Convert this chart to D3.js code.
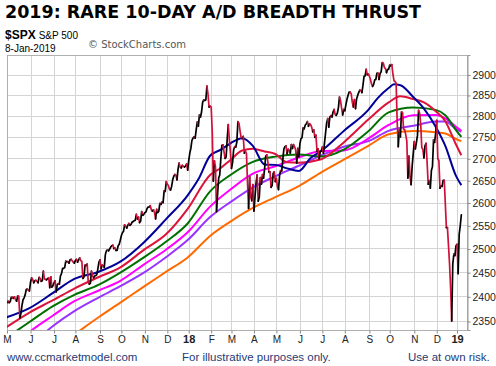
<!DOCTYPE html>
<html><head><meta charset="utf-8">
<script src="https://cdn.jsdelivr.net/npm/d3@7/dist/d3.min.js"></script>
<style>body{margin:0;background:#fff}svg{display:block}</style>
</head><body><svg id="c" width="496" height="366"></svg>
<script>
// Daily closes of $SPX, one per trading day starting 1-May-2017
const closes = [
2388,2391,2388,2390,2399,2399,2397,2400,2394,2391,2402,2401,2357,2366,2382,2394,2398,2404,2415,2416,2413,2412,
2430,2439,2436,2429,2433,2434,2432,2429,2440,2438,2432,2433,2453,2437,2436,2435,2438,2439,2419,2441,2420,2423,
2429,2433,2410,2425,2427,2426,2443,2448,2459,2459,2461,2474,2473,2473,2470,2477,2478,2475,2472,2470,
2476,2478,2472,2477,2481,2475,2474,2438,2441,2466,2465,2468,2430,2426,2428,2453,2444,2439,2443,2444,2446,2458,2472,
2477,2458,2466,2465,2461,2488,2496,2498,2496,2500,2504,2507,2508,2501,2502,2497,2497,2507,2510,2519,
2529,2535,2538,2552,2549,2545,2551,2555,2551,2553,2558,2559,2561,2562,2575,2565,2569,2557,2560,2581,2573,2575,
2579,2580,2588,2591,2591,2594,2585,2582,2585,2579,2565,2586,2579,2582,2599,2597,2602,2601,2627,2626,2648,
2642,2639,2630,2629,2637,2652,2660,2664,2663,2652,2676,2690,2681,2679,2685,2683,2681,2683,2688,2674,
2696,2713,2724,2743,2748,2751,2748,2768,2786,2776,2803,2798,2810,2833,2839,2838,2839,2873,2854,2822,2824,
2822,2762,2649,2695,2682,2581,2620,2656,2663,2699,2731,2732,2716,2701,2704,2747,2780,2744,2714,
2678,2691,2721,2728,2727,2739,2787,2783,2765,2749,2747,2752,2713,2717,2712,2644,2588,2659,2613,2605,2641,
2582,2614,2645,2663,2604,2613,2657,2642,2664,2656,2678,2706,2709,2693,2670,2670,2635,2639,2667,2670,2648,
2655,2636,2630,2663,2673,2672,2698,2723,2728,2730,2711,2722,2720,2713,2733,2724,2733,2728,2721,2690,2724,2705,
2735,2747,2749,2772,2770,2779,2782,2787,2776,2782,2780,2774,2763,2767,2750,2755,2717,2723,2700,2716,2718,
2727,2713,2737,2760,2784,2794,2774,2798,2801,2798,2810,2816,2804,2802,2807,2820,2846,2837,2819,2803,2816,
2813,2827,2840,2850,2858,2858,2854,2833,2822,2840,2818,2841,2850,2857,2863,2862,2857,2875,2897,2898,2914,2901,2902,
2897,2889,2878,2872,2877,2888,2889,2904,2905,2889,2904,2908,2931,2930,2919,2916,2906,2914,2914,
2925,2923,2926,2902,2886,2884,2880,2786,2728,2767,2751,2810,2809,2769,2768,2756,2741,2656,2706,2659,2641,2683,2712,
2740,2723,2738,2755,2814,2807,2781,2726,2722,2702,2730,2736,2691,2642,2650,2633,2673,2682,2744,2738,2760,
2790,2700,2696,2633,2638,2637,2651,2651,2600,2546,2546,2507,2467,2417,2351,2468,2489,2486,2507,
2510,2448,2532,2550,2574
];

// Month axis: labels and trading days in each month (May-2017 .. Dec-2018)
const monthLabels = ["M","J","J","A","S","O","N","D","18","F","M","A","M","J","J","A","S","O","N","D","19"];
const monthTradingDays = [22,22,20,23,20,22,21,20,21,19,21,21,22,21,21,23,19,23,21,19];
const yTicks = [2350,2400,2450,2500,2550,2600,2650,2700,2750,2800,2850,2900];

// Moving averages, sampled at trading-day index (month ends / mid months)
const sma50Days = [-1,21,43,63,86,106,128,149,169,179,190,200,209,220,230,241,251,262,273,284,294,315,338,347,357,362,368,380,390,401,410,420,425];
const sma50     = [2358,2377,2408,2437,2452,2473,2514,2565,2617,2653,2707,2721,2736,2748,2730,2687,2686,2678,2672,2702,2718,2765,2815,2844,2868,2877,2875,2846,2818,2775,2730,2661,2640];
const sma75Days = [-1,21,43,63,86,106,128,149,169,190,200,209,220,230,241,251,262,273,294,315,338,357,368,380,390,401,410,420,425];
const sma75     = [2338,2368,2393,2417,2441,2461,2498,2532,2587,2663,2679,2697,2719,2723,2717,2711,2692,2691,2699,2738,2792,2833,2848,2841,2833,2812,2788,2733,2708];
const smaDays   = [-1,21,43,63,86,106,128,149,169,190,209,230,251,273,294,315,338,357,380,401,410,420,425];
const sma100    = [2317,2349,2381,2404,2425,2450,2482,2516,2555,2626,2663,2693,2705,2710,2705,2721,2764,2809,2821,2815,2802,2767,2751];
const sma125    = [2288,2329,2362,2391,2413,2433,2467,2499,2536,2592,2630,2666,2683,2703,2718,2719,2747,2779,2802,2803,2795,2775,2765];
const sma150    = [2264,2301,2341,2371,2399,2422,2450,2483,2519,2569,2602,2635,2660,2684,2708,2728,2741,2765,2777,2787,2787,2770,2763];
const sma200    = [2239,2265,2294,2324,2359,2388,2421,2452,2482,2528,2559,2589,2613,2638,2669,2698,2730,2757,2765,2762,2759,2746,2741];

const svg = d3.select("#c");
const L = 7, R = 467, T = 55, B = 330;
const x = d3.scaleLinear().domain([0, 430.3]).range([L, R]);
const y = d3.scaleLog().domain([2333, 2950]).range([B, T]);

const monthStarts = [0];
monthTradingDays.forEach(d => monthStarts.push(monthStarts[monthStarts.length-1] + d));

svg.append("defs").append("clipPath").attr("id","clip")
  .append("rect").attr("x",L).attr("y",T).attr("width",R-L).attr("height",B-T);

// grid
const g = svg.append("g");
g.selectAll(".hg").data(yTicks).enter().append("line")
  .attr("x1",L).attr("x2",R).attr("y1",d=>y(d)).attr("y2",d=>y(d))
  .attr("stroke","#d4d4d4").attr("stroke-width",1).attr("shape-rendering","crispEdges");
g.selectAll(".vg").data(monthStarts).enter().append("line")
  .attr("x1",d=>Math.round(x(d))+0.5).attr("x2",d=>Math.round(x(d))+0.5).attr("y1",T).attr("y2",B)
  .attr("stroke","#d4d4d4").attr("stroke-width",1);

// frame
svg.append("rect").attr("x",L+0.5).attr("y",T+0.5).attr("width",R-L).attr("height",B-T)
  .attr("fill","none").attr("stroke","#b0b0b0");

// axes
const yAxis = d3.axisRight(y).tickValues(yTicks).tickSize(3).tickPadding(2).tickFormat(d3.format("d"));
const ya = svg.append("g").attr("transform",`translate(${R+0.5},0)`).call(yAxis);
ya.select(".domain").attr("stroke","#999");
ya.selectAll(".tick line").attr("stroke","#888");
ya.selectAll("text").attr("font-family","'Liberation Sans',Arial,sans-serif").attr("font-size","10.5px").attr("fill","#222");

const xAxis = d3.axisBottom(x).tickValues(monthStarts).tickSize(3).tickPadding(2)
  .tickFormat((d,i)=>monthLabels[i]);
const xa = svg.append("g").attr("transform",`translate(0,${B+0.5})`).call(xAxis);
xa.select(".domain").remove();
xa.selectAll(".tick line").attr("stroke","#888");
xa.selectAll("text").attr("font-family","'Liberation Sans',Arial,sans-serif").attr("fill","#222")
  .attr("font-weight",(d,i)=>/\d/.test(monthLabels[i])?"bold":"normal")
  .attr("font-size",(d,i)=>/\d/.test(monthLabels[i])?"11px":"10px");

// moving averages
const plot = svg.append("g").attr("clip-path","url(#clip)");
const line = d3.line().x(d=>x(d[0])).y(d=>y(d[1])).curve(d3.curveMonotoneX);
const mas = [
  {days: smaDays, vals: sma200, color:"#ff6a00"},
  {days: smaDays, vals: sma150, color:"#9933ff"},
  {days: smaDays, vals: sma125, color:"#ff00ff"},
  {days: smaDays, vals: sma100, color:"#007000"},
  {days: sma75Days, vals: sma75, color:"#dc143c"},
  {days: sma50Days, vals: sma50, color:"#000099"}
];
mas.forEach(m => {
  plot.append("path").datum(m.days.map((d,i)=>[d, m.vals[i]]))
    .attr("d", line).attr("fill","none").attr("stroke", m.color)
    .attr("stroke-width",2).attr("stroke-linejoin","round");
});

// price: black on up days, red on down days
const segs = [];
for (let i = 1; i < closes.length; i++) {
  const up = closes[i] >= closes[i-1];
  const last = segs[segs.length-1];
  if (last && last.up === up) last.pts.push([i, closes[i]]);
  else segs.push({up, pts: [[i-1, closes[i-1]], [i, closes[i]]]});
}
const pline = d3.line().x(d=>x(d[0])).y(d=>y(d[1]));
plot.selectAll(".px").data(segs).enter().append("path")
  .attr("d", d=>pline(d.pts)).attr("fill","none")
  .attr("stroke", d=>d.up ? "#000" : "#d0103a")
  .attr("stroke-width",1.7).attr("stroke-linejoin","round").attr("stroke-linecap","round");

// texts
const ff = "'Liberation Sans',Arial,sans-serif";
svg.append("text").attr("x",5).attr("y",18).attr("font-family","'DejaVu Sans',sans-serif")
  .attr("font-weight","bold").attr("font-size","18.5px").attr("fill","#000")
  .attr("textLength",416).attr("lengthAdjust","spacingAndGlyphs")
  .text("2019:  RARE 10-DAY A/D BREADTH THRUST");
const t2 = svg.append("text").attr("x",5).attr("y",39).attr("font-family",ff).attr("fill","#000");
t2.append("tspan").attr("font-weight","bold").attr("font-size","12px").text("$SPX");
t2.append("tspan").attr("font-size","10px").attr("dx",3).text("S&P 500");
svg.append("text").attr("x",5).attr("y",52).attr("font-family",ff).attr("font-size","10px").attr("fill","#000").text("8-Jan-2019");
svg.append("text").attr("x",88).attr("y",48).attr("font-family","'DejaVu Sans',sans-serif").attr("font-size","10px").attr("fill","#555").text("© StockCharts.com");

svg.append("text").attr("x",7).attr("y",361).attr("font-family",ff).attr("font-size","11.5px").attr("fill","#1f3a75").text("www.ccmarketmodel.com");
svg.append("text").attr("x",182).attr("y",361).attr("font-family",ff).attr("font-size","11.5px").attr("fill","#1f3a75").text("For illustrative purposes only.");
svg.append("text").attr("x",408).attr("y",361).attr("font-family",ff).attr("font-size","11.5px").attr("fill","#1f3a75").text("Use at own risk.");
</script></body></html>
